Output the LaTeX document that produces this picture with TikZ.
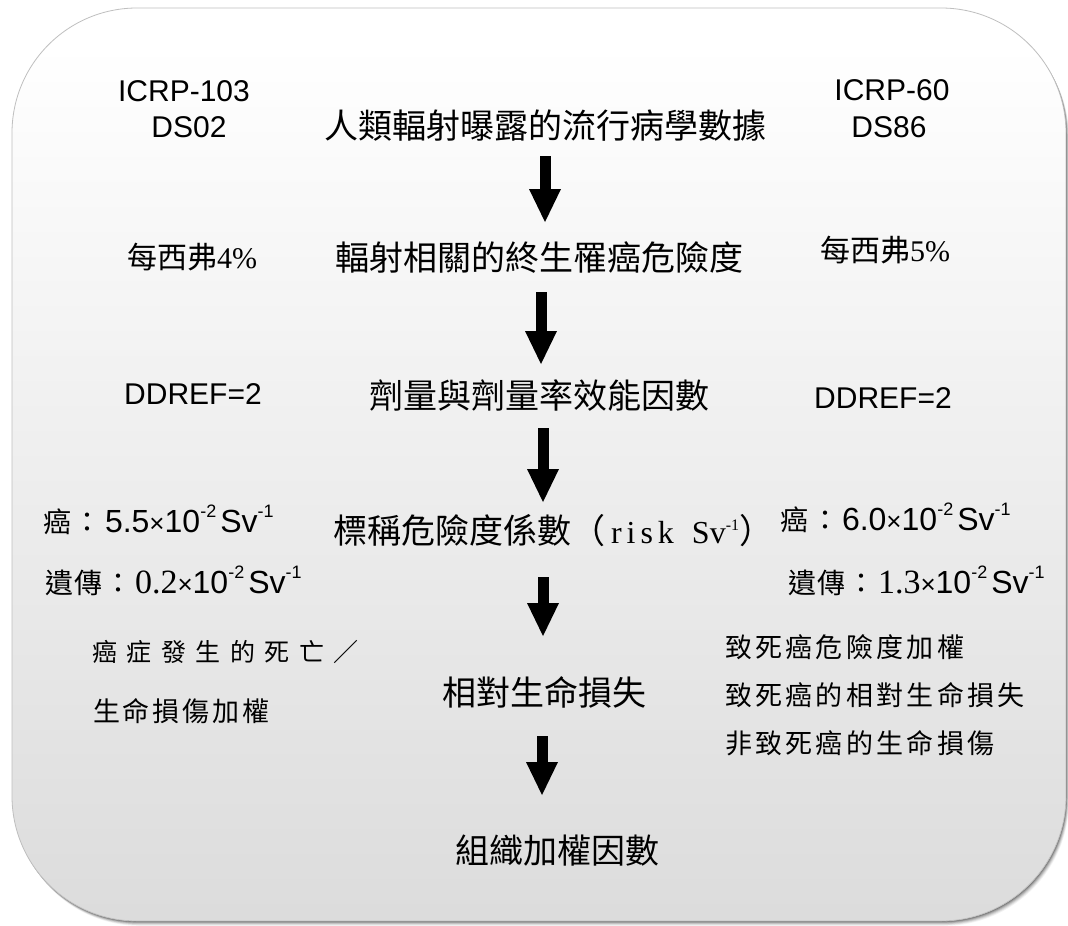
\documentclass[tikz,border=0pt]{standalone}
\usepackage{fontspec}
\setmainfont{Liberation Serif}
\newfontfamily\cjk{Noto Sans CJK TC}
\newfontfamily\arial{Liberation Sans}
\newfontfamily\tnr{Liberation Serif}
\usetikzlibrary{arrows.meta}
\newcommand\fs[1]{\fontsize{#1}{#1}\selectfont}
\makeatletter
\newcommand\spread[2]{\def\sp@gap{#1}\sp@loop#2\relax}
\def\sp@loop#1{\ifx\relax#1\else#1\hspace{\sp@gap}\expandafter\sp@loop\fi}
\makeatother
\newcommand\sups[2][15pt]{\raisebox{#1}{\arial\fs{18}#2}}
\pgfdeclareverticalshading{boxshade}{100bp}{color(0bp)=(black!21); color(73bp)=(white); color(100bp)=(white)}
\begin{document}
\begin{tikzpicture}[x=1pt,y=-1pt,
  lbl/.style={inner sep=0pt, outer sep=0pt},
  ctext/.style={lbl, anchor=base, font=\cjk\fs{34}},
  latin/.style={lbl, anchor=base, font=\arial\fs{30}},
  side/.style={lbl, anchor=base west},
  bigarrow/.style={line width=11pt, -{Triangle[length=33pt,width=32pt,line width=0pt]}},
]
\useasboundingbox (0,0) rectangle (1068,926);
\fill[white] (0,0) rectangle (1068,926);
% shadow
\foreach \i/\o in {6/0.05,5/0.07,4/0.09,3/0.12,2/0.16,1/0.24} {
  \fill[black,opacity=\o,rounded corners=125pt] (12+\i*0.5,8+\i*0.8) rectangle (1066+\i*0.5,921+\i*0.8);
}
\shade[shading=boxshade, draw=black!25, line width=0.8pt, rounded corners=125pt] (12,8) rectangle (1066,921);

% top labels
\node[latin] (icrpA) at (184,101) {ICRP-103};
\node[latin] (dsA) at (189,137) {DS02};
\node[latin] (icrpB) at (892,100) {ICRP-60};
\node[latin] (dsB) at (889,137) {DS86};

% central column
\node[ctext] (t1) at (545,138) {人類輻射曝露的流行病學數據};
\node[ctext] (t2) at (539,270) {輻射相關的終生罹癌危險度};
\node[ctext] (t3) at (539,408) {劑量與劑量率效能因數};
\node[side] (t4) at (333,543) {{\cjk\fs{34}標稱危險度係數（}\hspace{6pt}{\tnr\fs{32}\spread{5pt}{ris}k\hspace{18pt}Sv}\raisebox{13pt}{\tnr\fs{16}-1}{\cjk\fs{34}）}};
\node[ctext] (t5) at (544,705) {相對生命損失};
\node[ctext] (t6) at (557,863) {組織加權因數};

% left column
\node[side] (pA) at (127,268) {{\cjk\fs{30}每西弗}{\tnr\fs{30}4\%}};
\node[latin] (dA) at (193,404) {DDREF=2};
\node[side] (cA) at (43,532) {{\cjk\fs{28}\spread{3pt}{癌：}}{\arial\fs{32}5.5}{\arial\fs{26}×}{\arial\fs{32}10}\sups{-2}\hspace{4pt}{\arial\fs{32}Sv}\sups{-1}};
\node[side] (gA) at (45,593) {{\cjk\fs{28}\spread{2pt}{遺傳：}}{\tnr\fs{34}0.2}{\arial\fs{26}×}{\arial\fs{32}10}\sups{-2}\hspace{4pt}{\arial\fs{32}Sv}\sups{-1}};
\node[side] (wA) at (92,661) {\cjk\fs{25}\spread{9.5pt}{癌症發生的死亡／}};
\node[side] (wB) at (93,721) {\cjk\fs{27}\spread{3pt}{生命損傷加權}};

% right column
\node[side] (pB) at (820,261) {{\cjk\fs{30}每西弗}{\tnr\fs{30}5\%}};
\node[latin] (dB) at (883,408) {DDREF=2};
\node[side] (cB) at (780,530) {{\cjk\fs{28}\spread{3pt}{癌：}}{\arial\fs{32}6.0}{\arial\fs{26}×}{\arial\fs{32}10}\sups{-2}\hspace{4pt}{\arial\fs{32}Sv}\sups{-1}};
\node[side] (gB) at (788,593) {{\cjk\fs{28}\spread{2pt}{遺傳：}}{\tnr\fs{34}1.3}{\arial\fs{26}×}{\arial\fs{32}10}\sups{-2}\hspace{4pt}{\arial\fs{32}Sv}\sups{-1}};
\node[side] (rA) at (725,657) {\cjk\fs{27}\spread{3.3pt}{致死癌危險度加權}};
\node[side] (rB) at (725,705) {\cjk\fs{27}\spread{3.3pt}{致死癌的相對生命損失}};
\node[side] (rC) at (725,753) {\cjk\fs{27}\spread{3.3pt}{非致死癌的生命損傷}};

% arrows
\coordinate (a1s) at (545,156); \coordinate (a1e) at (545,222);
\coordinate (a2s) at (541,292); \coordinate (a2e) at (541,364);
\coordinate (a3s) at (543,428); \coordinate (a3e) at (543,502);
\coordinate (a4s) at (543,577); \coordinate (a4e) at (543,636);
\coordinate (a5s) at (542,736); \coordinate (a5e) at (542,795);
\draw[bigarrow] (a1s) -- (a1e);
\draw[bigarrow] (a2s) -- (a2e);
\draw[bigarrow] (a3s) -- (a3e);
\draw[bigarrow] (a4s) -- (a4e);
\draw[bigarrow] (a5s) -- (a5e);
\end{tikzpicture}
\end{document}
